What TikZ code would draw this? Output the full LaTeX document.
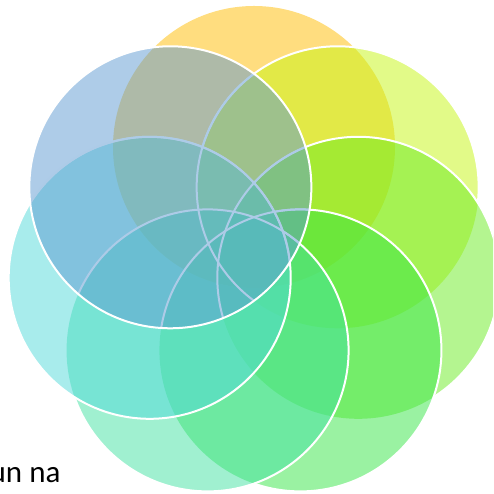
\documentclass[tikz,border=0pt]{standalone}
\usepackage{fontspec}
\setmainfont{Carlito}
\usetikzlibrary{calc}

\definecolor{ringgold}{RGB}{255,188,0}
\definecolor{ringlime}{RGB}{197,245,17}
\definecolor{ringgreen}{RGB}{105,235,33}
\definecolor{ringjade}{RGB}{53,229,69}
\definecolor{ringteal}{RGB}{65,225,161}
\definecolor{ringaqua}{RGB}{81,217,217}
\definecolor{ringsky}{RGB}{93,153,209}

\tikzset{
  petal/.style={fill=ring#1, fill opacity=0.5},
  rim/.style={draw=white, line width=2pt},
}
\newcommand{\R}{141}
% clip away the inside of one circle (scope must use even odd rule)
\newcommand{\outside}[1]{\clip (-20,-20) rectangle (513,514) (#1) circle (\R);}

\begin{document}
\begin{tikzpicture}[x=1pt, y=1pt]
  \useasboundingbox (0,0) rectangle (493,494);
  \clip (0,0) rectangle (493,494);

  % seven circles on a ring, clockwise from the top
  \coordinate (ring) at (254,240);
  \foreach \name [count=\k from 0] in {gold,lime,green,jade,teal,aqua,sky}
    \coordinate (\name) at ($(ring)+({90-\k*360/7}:107)$);

  % fills, the blue one comes last
  \foreach \name in {gold,lime,green,jade,teal,aqua}
    \fill[petal=\name] (\name) circle (\R);

  % white rims, hidden under the circles drawn later
  \begin{scope}[even odd rule]
    \outside{green}\outside{jade}\outside{teal}\outside{aqua}
    \draw[rim] (lime) circle (\R);
  \end{scope}
  \begin{scope}[even odd rule]
    \outside{jade}\outside{teal}\outside{aqua}
    \draw[rim] (green) circle (\R);
  \end{scope}
  \begin{scope}[even odd rule]
    \outside{teal}\outside{aqua}
    \draw[rim] (jade) circle (\R);
  \end{scope}
  \begin{scope}[even odd rule]
    \outside{aqua}
    \draw[rim] (teal) circle (\R);
  \end{scope}
  \draw[rim] (aqua) circle (\R);

  % under the blue circle every rim shows through
  \begin{scope}
    \clip (sky) circle (\R);
    \foreach \name in {lime,green,jade,teal,aqua}
      \draw[rim] (\name) circle (\R);
  \end{scope}
  \fill[petal=sky] (sky) circle (\R);
  \draw[rim] (sky) circle (\R);

  % cut-off text at the lower left
  \node[anchor=base west, inner sep=0pt, font=\fontsize{31}{37}\selectfont]
    (caption) at (-10.5,11) {un na};
\end{tikzpicture}
\end{document}
